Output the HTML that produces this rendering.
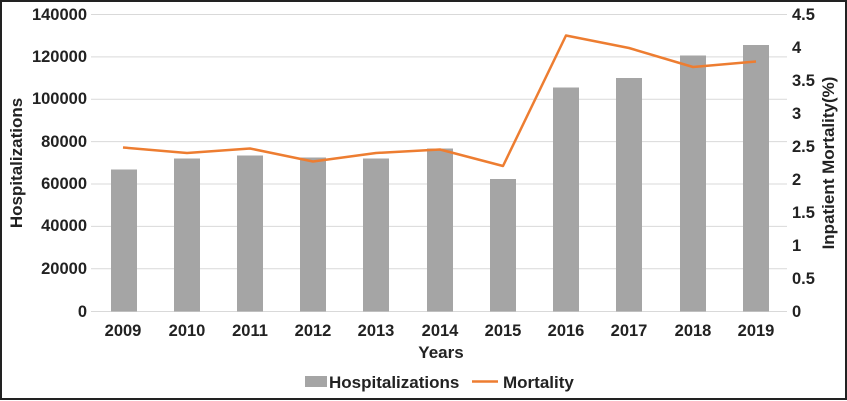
<!DOCTYPE html>
<html><head><style>
html,body{margin:0;padding:0;background:#fff;}
svg{display:block;font-family:"Liberation Sans",Arial,sans-serif;}
</style></head><body>
<svg width="847" height="401" viewBox="0 0 847 401" xmlns="http://www.w3.org/2000/svg">
<rect x="1" y="1" width="845" height="398" fill="#fff" stroke="#222" stroke-width="2"/>
<g stroke="#d9d9d9" stroke-width="1">
<line x1="91" y1="14.5" x2="787" y2="14.5"/>
<line x1="91" y1="56.9" x2="787" y2="56.9"/>
<line x1="91" y1="99.3" x2="787" y2="99.3"/>
<line x1="91" y1="141.6" x2="787" y2="141.6"/>
<line x1="91" y1="184" x2="787" y2="184"/>
<line x1="91" y1="226.4" x2="787" y2="226.4"/>
<line x1="91" y1="268.8" x2="787" y2="268.8"/>
<line x1="91" y1="311.5" x2="787" y2="311.5"/>
</g>
<g fill="#a5a5a5">
<rect x="111" y="169.5" width="26" height="142"/>
<rect x="174" y="158.5" width="26" height="153"/>
<rect x="237" y="155.5" width="26" height="156"/>
<rect x="300" y="157.5" width="26" height="154"/>
<rect x="363" y="158.5" width="26" height="153"/>
<rect x="427" y="148.5" width="26" height="163"/>
<rect x="490" y="179" width="26" height="132.5"/>
<rect x="553" y="87.5" width="26" height="224"/>
<rect x="616" y="78" width="26" height="233.5"/>
<rect x="680" y="55.5" width="26" height="256"/>
<rect x="743" y="45" width="26" height="266.5"/>
</g>
<polyline fill="none" stroke="#ed7d31" stroke-width="2.5" stroke-linejoin="round"
points="123,147.5 187,153 250,148.5 313,161.5 376,153 440,149.5 503,166 566,35.5 629,48 693,67 756,61.5"/>
<g font-size="16.5" font-weight="bold" fill="#222" text-anchor="end">
<text x="87" y="20">140000</text>
<text x="87" y="62">120000</text>
<text x="87" y="104">100000</text>
<text x="87" y="147">80000</text>
<text x="87" y="189">60000</text>
<text x="87" y="231">40000</text>
<text x="87" y="274">20000</text>
<text x="87" y="317">0</text>
</g>
<g font-size="16.5" font-weight="bold" fill="#222" text-anchor="start">
<text x="792" y="20">4.5</text>
<text x="792" y="53">4</text>
<text x="792" y="86">3.5</text>
<text x="792" y="119">3</text>
<text x="792" y="152">2.5</text>
<text x="792" y="185">2</text>
<text x="792" y="218">1.5</text>
<text x="792" y="251">1</text>
<text x="792" y="284">0.5</text>
<text x="792" y="317">0</text>
</g>
<g font-size="16.5" font-weight="bold" fill="#222" text-anchor="middle">
<text x="123" y="336">2009</text>
<text x="187" y="336">2010</text>
<text x="250" y="336">2011</text>
<text x="313" y="336">2012</text>
<text x="376" y="336">2013</text>
<text x="440" y="336">2014</text>
<text x="503" y="336">2015</text>
<text x="566" y="336">2016</text>
<text x="629" y="336">2017</text>
<text x="693" y="336">2018</text>
<text x="756" y="336">2019</text>
</g>
<g font-size="17" font-weight="bold" fill="#222" text-anchor="middle">
<text x="441" y="358">Years</text>
<text transform="translate(22,163) rotate(-90)">Hospitalizations</text>
<text transform="translate(834,163) rotate(-90)">Inpatient Mortality(%)</text>
</g>
<rect x="305" y="376" width="22" height="11" fill="#a5a5a5"/>
<text x="329" y="388" font-size="17" font-weight="bold" fill="#222">Hospitalizations</text>
<line x1="472" y1="381.5" x2="498" y2="381.5" stroke="#ed7d31" stroke-width="2.5"/>
<text x="503" y="388" font-size="17" font-weight="bold" fill="#222">Mortality</text>
</svg>
</body></html>
